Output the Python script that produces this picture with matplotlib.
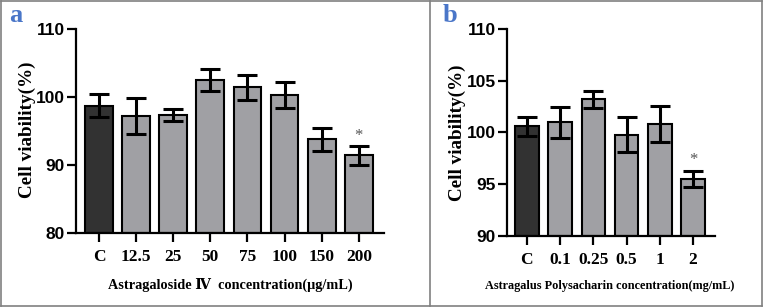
import matplotlib
matplotlib.use("Agg")
import matplotlib.pyplot as plt
from matplotlib.lines import Line2D

# ---- data ----
cats_a = ["C", "12.5", "25", "50", "75", "100", "150", "200"]
vals_a = [98.7, 97.2, 97.4, 102.5, 101.4, 100.3, 93.8, 91.4]
errs_a = [1.7, 2.6, 0.9, 1.6, 1.9, 1.85, 1.7, 1.4]
star_a = [7]

cats_b = ["C", "0.1", "0.25", "0.5", "1", "2"]
vals_b = [100.6, 101.0, 103.2, 99.8, 100.8, 95.5]
errs_b = [0.9, 1.5, 0.85, 1.65, 1.75, 0.75]
star_b = [5]

W, H = 763, 307
fig = plt.figure(figsize=(W / 100, H / 100), dpi=100)

serif = ["Liberation Serif", "DejaVu Serif"]
serif_x = ["Liberation Serif", "DejaVu Serif", "DejaVu Sans", "Noto Sans CJK SC"]
sans = ["Liberation Sans", "DejaVu Sans"]
dark = "#323232"
gray = "#a0a0a4"
blue = "#4a76c8"

def px_ax(x0, x1, y0, y1):
    return fig.add_axes([x0 / W, 1 - y1 / H, (x1 - x0) / W, (y1 - y0) / H])

def draw(ax, cats, vals, errs, stars, ylim, yticks, xlim, width, capsize):
    x = list(range(len(cats)))
    colors = [dark] + [gray] * (len(cats) - 1)
    ax.bar(x, [v - ylim[0] for v in vals], bottom=ylim[0], width=width,
           color=colors, edgecolor="black", linewidth=1.5, zorder=2)
    ax.errorbar(x, vals, yerr=errs, fmt="none", ecolor="black",
                elinewidth=2.2, capsize=capsize, capthick=2.2, zorder=3)
    for i in stars:
        ax.text(x[i], vals[i] + errs[i] + 0.3, "*", ha="center", va="bottom",
                fontsize=12, color="#555555", family=serif)
    ax.set_ylim(*ylim)
    ax.set_xlim(*xlim)
    ax.set_yticks(yticks)
    ax.set_yticklabels([str(t) for t in yticks], family=sans,
                       fontweight="bold", fontsize=12.5)
    ax.set_xticks(x)
    ax.set_xticklabels(cats, family=serif, fontweight="bold", fontsize=12.5)
    for s in ["top", "right"]:
        ax.spines[s].set_visible(False)
    for s in ["left", "bottom"]:
        ax.spines[s].set_linewidth(1.6)
    ax.tick_params(axis="both", width=1.6, length=6.5, color="black")
    ax.tick_params(axis="x", pad=5)
    ax.tick_params(axis="y", pad=1.5)
    ax.set_facecolor("none")

# panel a
ax1 = px_ax(76, 384, 29, 233)
draw(ax1, cats_a, vals_a, errs_a, star_a, (80, 110), [80, 90, 100, 110],
     (-0.62, 7.68), 0.75, 7)
# panel b
ax2 = px_ax(507, 715, 29, 236)
draw(ax2, cats_b, vals_b, errs_b, star_b, (90, 110), [90, 95, 100, 105, 110],
     (-0.6, 5.66), 0.71, 7.5)

# y labels
fig.text(27 / W, 1 - 130 / H, "Cell viability(%)", rotation=90, ha="center",
         va="center", family=serif, fontweight="bold", fontsize=13.8)
fig.text(457 / W, 1 - 133 / H, "Cell viability(%)", rotation=90, ha="center",
         va="center", family=serif, fontweight="bold", fontsize=13.8)
# x labels
fig.text(230 / W, 1 - 285 / H, "Astragaloside \u2163  concentration(\u03bcg/mL)",
         ha="center", va="center", family=serif_x, fontweight="bold", fontsize=10.3)
fig.text(610 / W, 1 - 286 / H, "Astragalus Polysacharin concentration(mg/mL)",
         ha="center", va="center", family=serif, fontweight="bold", fontsize=8.8)

# panel letters
fig.text(16 / W, 1 - 15 / H, "a", ha="center", va="center", family=serif,
         fontweight="bold", fontsize=19, color=blue)
fig.text(450 / W, 1 - 15 / H, "b", ha="center", va="center", family=serif,
         fontweight="bold", fontsize=19, color=blue)

# frame lines
bc = "#808080"
def fline(x0, y0, x1, y1):
    fig.add_artist(Line2D([x0 / W, x1 / W], [1 - y0 / H, 1 - y1 / H],
                          color=bc, linewidth=1.2, transform=fig.transFigure))
fline(0.5, 0.5, 762, 0.5)
fline(0.5, 306, 762, 306)
fline(0.5, 0.5, 0.5, 306)
fline(430, 0.5, 430, 306)
fline(761.5, 0.5, 761.5, 306)

fig.savefig("out.png", dpi=100)
